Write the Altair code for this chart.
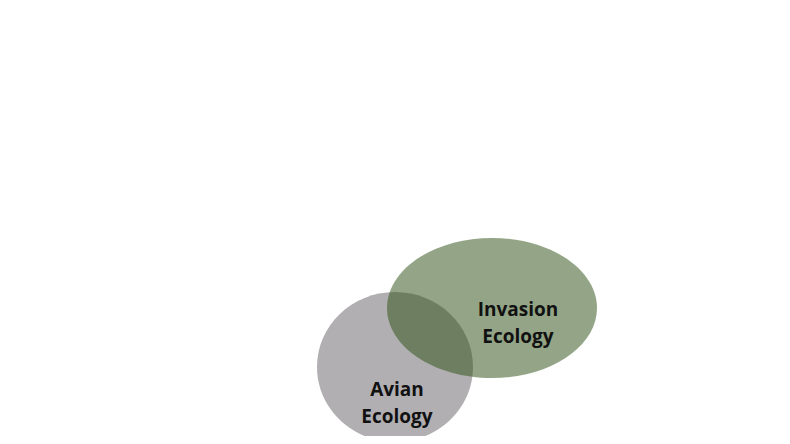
import altair as alt
import pandas as pd

labels = ["Avian\nEcology", "Invasion\nEcology"]
cx = [387, 484]
cy = [359, 300]
label_x = [389, 510]
label_y = [382, 302]
colors = ["#b1afb1", "#33551a"]
opacities = [1.0, 0.53]

GREY_SHAPE = "M -1 0 A 1 0.96 0 1 0 1 0 A 1 0.96 0 1 0 -1 0 Z"
GREEN_SHAPE = "M -1 0 A 1 0.667 0 1 0 1 0 A 1 0.667 0 1 0 -1 0 Z"
shapes = [GREY_SHAPE, GREEN_SHAPE]
sizes = [156 ** 2, 210 ** 2]

df = pd.DataFrame({"label": labels, "cx": cx, "cy": cy, "lx": label_x, "ly": label_y})

xs = alt.Scale(domain=[0, 774])
ys = alt.Scale(domain=[0, 428], reverse=True)

layers = []
for i in range(2):
    layers.append(
        alt.Chart(df.iloc[[i]])
        .mark_point(shape=shapes[i], size=sizes[i], filled=True,
                    color=colors[i], opacity=opacities[i], strokeWidth=0)
        .encode(x=alt.X("cx:Q", scale=xs, axis=None),
                y=alt.Y("cy:Q", scale=ys, axis=None))
    )

text = (
    alt.Chart(df)
    .mark_text(font="Open Sans", fontSize=19, fontWeight="bold", color="#111111",
               lineBreak="\n", lineHeight=27)
    .encode(x=alt.X("lx:Q", scale=xs, axis=None),
            y=alt.Y("ly:Q", scale=ys, axis=None),
            text="label:N")
)

chart = (
    alt.layer(*layers, text)
    .properties(width=774, height=428, padding=0, background="white",
                autosize=alt.AutoSizeParams(type="none"))
    .configure_view(stroke=None)
)

chart.save("out.html", embed_options={"renderer": "svg", "actions": False})
